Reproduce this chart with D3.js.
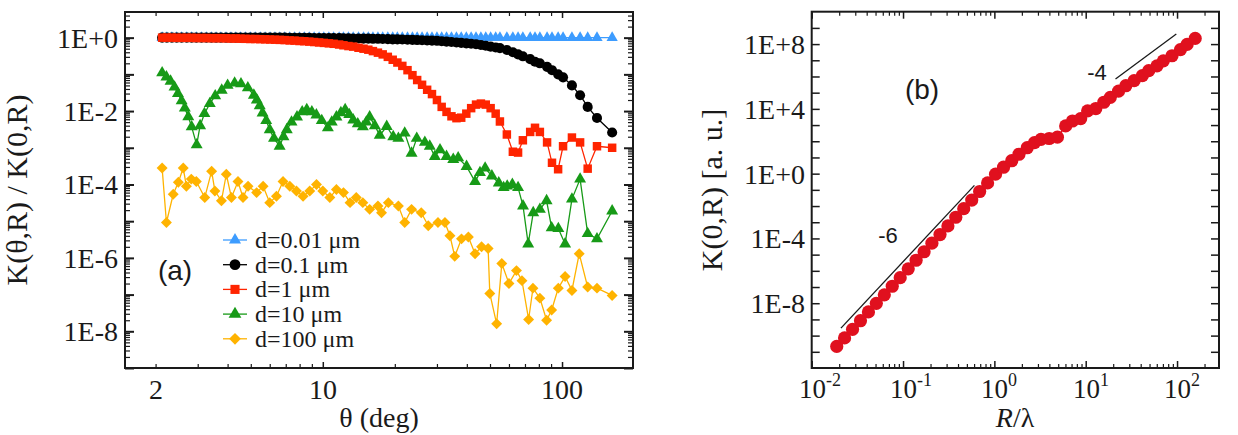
<!DOCTYPE html>
<html><head><meta charset="utf-8">
<script src="https://cdn.jsdelivr.net/npm/d3@7"></script>
<style>body{margin:0;background:#fff}svg{display:block}</style>
</head><body><svg id="c" width="1238" height="435"></svg>
<script>
// ---------------- DATA : panel (a) ----------------
const thetaGrid = [2.13,2.23,2.34,2.45,2.57,2.70,2.83,2.96,3.11,3.26,3.42,3.58,3.75,3.94,4.13,4.33,4.53,4.75,4.98,5.22,
  5.48,5.74,6.02,6.31,6.61,6.93,7.27,7.62,7.99,8.37,8.78,9.20,9.65,10.1,10.6,11.1,11.7,12.2,12.8,13.4,
  14.1,14.8,15.5,16.2,17.0,17.8,18.7,19.6,20.5,21.5,22.6,23.7,24.8,26.0,27.3,28.6,30.0,31.4,32.9,34.5,
  36.2,37.9,39.8,41.7,43.7,45.8,48.0,50.3,52.8,
  55,58.8,62.3,65.5,68.6,73.6,77.1,80.8,86.6,90.8,96.3,101,110,119,128,140,162];
const kBlue = [1,1,1,1,1,1,1,1,1,1,1,1,1,1,1,1,1,1,1,1,
  1,1,1,1,1,1,1,1,1,1,1,1,1,1,1,1,1,1,1,1,
  1,1,1,1,1,1,1,1,1,1,1,1,1,1,1,1,1,1,1,1,
  1,1,1,1,1,1,1,1,1,
  1,1,1,1,1,1,1,1,1,1,1,1,1,1,1,1,1];
const kBlack = [1,1,1,1,1,1,1,1,1,1,1,1,1,1,1,1,1,1,1,1,
  1,1,1,1,1,1,0.99,0.99,0.99,0.99,0.99,0.98,0.98,0.98,0.97,0.97,0.97,0.96,0.96,0.95,
  0.95,0.94,0.94,0.93,0.93,0.92,0.91,0.90,0.90,0.89,0.88,0.87,0.86,0.85,0.84,0.83,0.82,0.80,0.78,0.76,
  0.74,0.72,0.70,0.68,0.66,0.63,0.60,0.57,0.54,
  0.52,0.46,0.40,0.35,0.31,0.26,0.22,0.20,0.16,0.13,0.10,0.083,0.05,0.027,0.013,0.0065,0.0026];
const kRed = [1.0,1.0,1.0,0.99,0.99,0.99,0.99,0.98,0.98,0.98,0.97,0.97,0.97,0.96,0.95,0.95,0.94,0.93,0.92,0.92,
  0.91,0.90,0.89,0.88,0.87,0.86,0.84,0.83,0.81,0.80,0.78,0.76,0.74,0.72,0.70,0.68,0.65,0.62,0.59,0.57,
  0.53,0.50,0.47,0.43,0.39,0.35,0.30,0.25,0.21,0.17,0.13,0.095,0.07,0.052,0.038,0.029,0.020,0.013,0.0095,0.0072,
  0.0064,0.0066,0.0085,0.012,0.015,0.016,0.015,0.012,0.0085,
  0.0052,0.0023,0.00078,0.00074,0.0016,0.0027,0.0035,0.0027,0.0014,0.00039,0.00026,0.0011,0.0019,0.0014,0.00027,0.0011,0.001];
const thetaGreen = [2.13,2.22,2.31,2.40,2.48,2.57,2.65,2.74,2.83,2.97,3.07,3.20,3.37,3.55,3.78,4.00,4.28,4.55,4.86,
  5.15,5.30,5.45,5.60,5.80,6.00,6.25,6.60,6.85,7.07,7.40,7.80,8.20,8.57,9.00,9.40,9.90,10.5,10.9,11.4,11.9,12.4,12.9,
  13.4,14.0,14.7,15.2,15.7,16.5,17.3,18.5,19.7,20.7,22.0,23.5,24.7,26.7,28.0,29.4,30.9,32.9,35.1,36.8,39.9,43.3,45.4,
  47.7,50.9,54.4,57.0,59.0,62.0,65.5,68.7,72.2,75.8,80.8,86.2,90.5,96.5,103,110,119,128,140,162];
const kGreen = [0.11,0.085,0.065,0.045,0.030,0.019,0.012,0.0070,0.0037,0.0012,0.0040,0.0085,0.016,0.026,0.037,0.050,0.058,0.055,0.043,
  0.027,0.020,0.014,0.0089,0.0055,0.0031,0.0018,0.0011,0.0020,0.0031,0.0050,0.0069,0.0095,0.011,0.0095,0.0078,0.0055,0.0035,0.0050,0.0069,0.0090,0.011,0.0080,
  0.0057,0.0045,0.0037,0.0050,0.0069,0.0040,0.0022,0.0038,0.0020,0.0018,0.0025,0.00071,0.0018,0.0014,0.0011,0.00058,0.00088,0.00058,0.00048,0.00053,0.00031,0.00012,0.00021,
  0.00028,0.00017,0.00011,0.000082,0.00009,0.0001,0.000082,0.000026,0.0000024,0.000017,0.000021,0.000036,0.0000066,0.0000063,0.0000024,0.00004,0.00014,0.0000046,0.0000033,0.000019];
const thetaOrange = [2.13,2.22,2.37,2.49,2.61,2.69,2.82,2.96,3.21,3.43,3.54,3.77,3.95,4.15,4.42,4.64,4.87,
  5.29,5.63,6.00,6.40,6.82,7.28,7.76,8.27,8.82,9.41,10.0,10.7,11.4,12.2,13.0,13.8,14.7,15.7,17.0,
  17.6,18.8,20.7,22.0,23.5,25.8,27.6,30.3,32.4,34.0,35.6,38.0,40.6,43.3,46.1,49.1,49.9,53.3,
  56.0,60.0,64.5,68.0,72.5,75.6,80.8,86.2,90.5,96.5,103,110,118,128,140,162];
const kOrange = [0.00028,0.0000092,0.000054,0.000115,0.00028,0.00009,0.00014,0.00012,0.000044,0.00023,0.000066,0.000036,0.00019,0.000044,0.00012,0.000044,0.00009,
  0.000060,0.00009,0.000032,0.000048,0.00012,0.00009,0.000066,0.000048,0.000066,0.0001,0.000066,0.000044,0.000073,0.00006,0.000032,0.000044,0.000032,0.000021,0.000026,
  0.000017,0.000032,0.000026,0.0000092,0.000021,0.000017,0.0000075,0.0000092,0.0000092,0.000004,0.0000011,0.0000033,0.0000037,0.0000013,0.000002,0.0000018,1.07e-7,1.6e-8,
  7e-7,2e-7,4.5e-7,2.4e-7,2.1e-8,1.5e-7,8e-8,2e-8,3.8e-8,1.5e-7,3.1e-7,1.3e-7,1.3e-6,1.6e-7,1.5e-7,9.5e-8];
const legendLabels = ["d=0.01 \u03bcm","d=0.1 \u03bcm","d=1 \u03bcm","d=10 \u03bcm","d=100 \u03bcm"];
const xTicksA = [2,10,100];
const xTickLabelsA = ["2","10","100"];
const yTicksA = [1,1e-2,1e-4,1e-6,1e-8];
const yTickLabelsA = ["1E+0","1E-2","1E-4","1E-6","1E-8"];

// ---------------- DATA : panel (b) ----------------
const rOverLambda = [0.0188,0.0229,0.0280,0.0342,0.0418,0.0510,0.0624,0.0762,0.0931,0.114,0.139,0.170,0.207,0.254,0.310,0.378,0.462,0.565,0.690,0.843,
  1.03,1.26,1.55,1.86,2.29,2.75,3.24,3.98,4.90,6.03,7.16,8.81,10.5,12.9,15.8,18.6,22.9,27.5,33.9,41.7,49.0,60.3,70.8,88.1,109,129,158];
const k0R = [2.14e-11,7.2e-11,2.45e-10,8.3e-10,2.9e-9,9.8e-9,3.3e-8,1.12e-7,3.8e-7,1.32e-6,4.5e-6,1.51e-5,5.1e-5,1.74e-4,5.9e-4,2.04e-3,6.9e-3,0.0234,0.079,0.269,
  0.93,2.5,6.3,15.8,40,83,132,148,178,891,1780,2510,7590,10500,25700,51300,1.26e5,2.69e5,5.5e5,1.12e6,2.29e6,4.57e6,9.3e6,1.9e7,4.57e7,9.5e7,2.24e8];
const slopeSixR = [0.0209,0.605];
const slopeSixK = [2.88e-10,0.19];
const slopeFourR = [21.2,98.2];
const slopeFourK = [7.08e5,4.17e8];
const xTicksB = [0.01,0.1,1,10,100];
const xTickExpB = ["-2","-1","0","1","2"];
const yTicksB = [1e8,1e4,1,1e-4,1e-8];
const yTickLabelsB = ["1E+8","1E+4","1E+0","1E-4","1E-8"];

// ---------------- STYLE ----------------
const SERIF = '"Liberation Serif"';
const SANS = '"Liberation Sans"';
const ink = "#1a1a1a";
const seriesColors = ["#3d9cff","#000000","#ff2400","#179a17","#ffb300"];
const seriesSymbols = [d3.symbolTriangle,d3.symbolCircle,d3.symbolSquare,d3.symbolTriangle,d3.symbolSquare];
const seriesSizes = [55,80,72,62,60];
const seriesRotate = [0,0,0,0,45];

const svg = d3.select("#c");

function minorLog(lo, hi){
  const out=[];
  for(let e=Math.floor(Math.log10(lo))-1;e<=Math.ceil(Math.log10(hi));e++){
    for(let m=2;m<=9;m++){const v=+(m+"e"+e); if(v>lo*1.0001 && v<hi*0.9999) out.push(v);}
  }
  return out;
}
function decades(lo, hi){
  const out=[];
  for(let e=Math.ceil(Math.log10(lo)-1e-9);e<=Math.floor(Math.log10(hi)+1e-9);e++) out.push(+("1e"+e));
  return out;
}
function tickAxis(g, axisFn, scale, values, len, w){
  g.call(axisFn(scale).tickValues(values).tickSize(-len).tickFormat(""));
  g.select(".domain").remove();
  g.selectAll(".tick line").attr("stroke",ink).attr("stroke-width",w);
  g.selectAll(".tick text").remove();
}
function txt(g,x,y,str,o){
  o=o||{};
  const t = g.append("text");
  if(o.rot){ t.attr("transform",`translate(${Math.round(x)},${Math.round(y)}) rotate(${o.rot})`).attr("x",0).attr("y",0); }
  else { t.attr("x",Math.round(x)).attr("y",Math.round(y)); }
  return t.style("font-family",o.sans?SANS:SERIF).attr("font-size",o.size||28)
    .attr("text-anchor",o.anchor||"middle").attr("fill",o.fill||ink).text(str);
}

// =============== PANEL (a) ===============
const A = {l:125,r:633,t:12,b:368};
const xA = d3.scaleLog().domain([1.49,198]).range([A.l,A.r]);
const yA = d3.scaleLog().domain([1e-9,5]).range([A.b,A.t]);
const gA = svg.append("g");

const xAmin = minorLog(1.49,198).filter(v=>![10,100].includes(v));
const yAmin = minorLog(1e-9,5);
const yAmaj = decades(1e-9,5);
tickAxis(gA.append("g").attr("transform",`translate(0,${A.b})`),d3.axisBottom,xA,xAmin,4,1.2);
tickAxis(gA.append("g").attr("transform",`translate(0,${A.b})`),d3.axisBottom,xA,[10,100],6,1.5);
tickAxis(gA.append("g").attr("transform",`translate(0,${A.t})`),d3.axisTop,xA,xAmin,4,1.2);
tickAxis(gA.append("g").attr("transform",`translate(0,${A.t})`),d3.axisTop,xA,[10,100],6,1.5);
tickAxis(gA.append("g").attr("transform",`translate(${A.l},0)`),d3.axisLeft,yA,yAmin,5,1.2);
tickAxis(gA.append("g").attr("transform",`translate(${A.l},0)`),d3.axisLeft,yA,yAmaj,9,2);
tickAxis(gA.append("g").attr("transform",`translate(${A.r},0)`),d3.axisRight,yA,yAmin,5,1.2);
tickAxis(gA.append("g").attr("transform",`translate(${A.r},0)`),d3.axisRight,yA,yAmaj,9,2);

xTicksA.forEach((v,i)=>txt(gA,xA(v),399,xTickLabelsA[i],{size:28}));
yTicksA.forEach((v,i)=>txt(gA,A.l-7,yA(v)+10,yTickLabelsA[i],{size:28,anchor:"end"}));
txt(gA,379,427,"\u03b8 (deg)",{size:28});
txt(gA,27,190,"K(\u03b8,R) / K(0,R)",{rot:-90,size:30});

const seriesA = [
  thetaGrid.map((t,i)=>[t,kBlue[i]]),
  thetaGrid.map((t,i)=>[t,kBlack[i]]),
  thetaGrid.map((t,i)=>[t,kRed[i]]),
  thetaGreen.map((t,i)=>[t,kGreen[i]]),
  thetaOrange.map((t,i)=>[t,kOrange[i]])
];
const lineA = d3.line().x(d=>xA(d[0])).y(d=>yA(d[1]));
seriesA.forEach((data,s)=>{
  const g = gA.append("g");
  g.append("path").attr("d",lineA(data)).attr("fill","none").attr("stroke",seriesColors[s]).attr("stroke-width",1.3);
  const sym = d3.symbol().type(seriesSymbols[s]).size(seriesSizes[s]);
  g.selectAll("path.m").data(data).join("path").attr("class","m")
    .attr("d",sym).attr("fill",seriesColors[s])
    .attr("transform",d=>`translate(${xA(d[0])},${yA(d[1])}) rotate(${seriesRotate[s]})`);
});

legendLabels.forEach((lab,i)=>{
  const y = 240 + i*24.7;
  gA.append("line").attr("x1",223).attr("x2",247).attr("y1",y).attr("y2",y)
    .attr("stroke",seriesColors[i]).attr("stroke-width",1.3);
  gA.append("path").attr("d",d3.symbol().type(seriesSymbols[i]).size(seriesSizes[i]*1.15))
    .attr("fill",seriesColors[i]).attr("transform",`translate(235,${y}) rotate(${seriesRotate[i]})`);
  txt(gA,255,y+8,lab,{size:24,anchor:"start"});
});
txt(gA,175,280,"(a)",{sans:true,size:28});

gA.append("rect").attr("x",A.l).attr("y",A.t).attr("width",A.r-A.l).attr("height",A.b-A.t)
  .attr("fill","none").attr("stroke",ink).attr("stroke-width",2);

// =============== PANEL (b) ===============
const B = {l:811.7,r:1219,t:11.7,b:368};
const xB = d3.scaleLog().domain([0.01,288]).range([B.l,B.r]);
const yB = d3.scaleLog().domain([1e-12,1e10]).range([B.b,B.t]);
const gB = svg.append("g");
const xBmin = minorLog(0.01,288);
const xBmaj = decades(0.01,288);
const yBmaj = decades(1e-12,1e10).filter(v=>v>1e-12*1.01 && v<1e10*0.99);
tickAxis(gB.append("g").attr("transform",`translate(0,${B.b})`),d3.axisBottom,xB,xBmin,4,1.2);
tickAxis(gB.append("g").attr("transform",`translate(0,${B.b})`),d3.axisBottom,xB,xBmaj,7,1.5);
tickAxis(gB.append("g").attr("transform",`translate(0,${B.t})`),d3.axisTop,xB,xBmin,4,1.2);
tickAxis(gB.append("g").attr("transform",`translate(0,${B.t})`),d3.axisTop,xB,xBmaj,7,1.5);
tickAxis(gB.append("g").attr("transform",`translate(${B.l},0)`),d3.axisLeft,yB,yBmaj,8,1.5);
tickAxis(gB.append("g").attr("transform",`translate(${B.r},0)`),d3.axisRight,yB,yBmaj,8,1.5);

xTicksB.forEach((v,i)=>{
  const t = gB.append("text").attr("x",Math.round(xB(v)-13)).attr("y",398)
    .style("font-family",SERIF).attr("font-size",27).attr("fill",ink).attr("text-anchor","start");
  t.append("tspan").text("10");
  t.append("tspan").attr("font-size",18).attr("dy",-12).text(xTickExpB[i]);
});
yTicksB.forEach((v,i)=>txt(gB,B.l-7,yB(v)+10,yTickLabelsB[i],{size:28,anchor:"end"}));
const xt = gB.append("text").attr("x",1015).attr("y",427)
  .style("font-family",SERIF).attr("font-size",28).attr("fill",ink).attr("text-anchor","middle");
xt.append("tspan").attr("font-style","italic").text("R");
xt.append("tspan").text("/\u03bb");
txt(gB,722,190,"K(0,R) [a. u.]",{rot:-90,size:30});

const dataB = rOverLambda.map((r,i)=>[r,k0R[i]]);
const lineB = d3.line().x(d=>xB(d[0])).y(d=>yB(d[1]));
gB.append("path").attr("d",lineB(dataB)).attr("fill","none").attr("stroke","#e0101e").attr("stroke-width",1.5);
gB.selectAll("circle").data(dataB).join("circle")
  .attr("cx",d=>xB(d[0])).attr("cy",d=>yB(d[1])).attr("r",6.6).attr("fill","#e0101e");

gB.append("path").attr("d",lineB(slopeSixR.map((r,i)=>[r,slopeSixK[i]]))).attr("stroke",ink).attr("stroke-width",1.3).attr("fill","none");
gB.append("path").attr("d",lineB(slopeFourR.map((r,i)=>[r,slopeFourK[i]]))).attr("stroke",ink).attr("stroke-width",1.3).attr("fill","none");
txt(gB,888,243,"-6",{sans:true,size:22});
txt(gB,1097,80,"-4",{sans:true,size:22});
txt(gB,922,99,"(b)",{sans:true,size:28});

gB.append("rect").attr("x",B.l).attr("y",B.t).attr("width",B.r-B.l).attr("height",B.b-B.t)
  .attr("fill","none").attr("stroke",ink).attr("stroke-width",2);
</script></body></html>
